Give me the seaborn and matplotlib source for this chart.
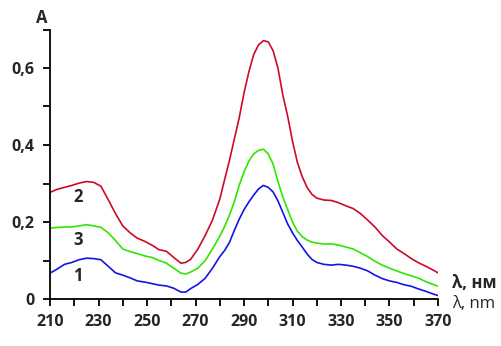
import matplotlib
matplotlib.use("Agg")
import matplotlib.pyplot as plt
import seaborn as sns
import pandas as pd
from matplotlib.ticker import MultipleLocator, FixedLocator

# Wavelength grid, nm (denser around the absorption maximum)
wavelength = [210, 213, 216, 219, 222, 225, 228, 231, 234, 237, 240, 243, 246, 249,
              252, 255, 258, 261, 264, 266, 268, 271, 274, 277,
              280, 282, 284, 286, 288, 290, 292, 294, 296, 298, 300, 302, 304, 306,
              308, 310, 312, 314, 316, 318, 320,
              323, 326, 329, 332, 335, 338, 341, 344, 347, 350, 353, 356, 359, 362,
              365, 368, 370]

# Absorbance of the three samples
absorb_1 = [0.067, 0.078, 0.090, 0.095, 0.102, 0.106, 0.105, 0.102, 0.085, 0.068,
            0.062, 0.055, 0.047, 0.044, 0.040, 0.036, 0.034, 0.028, 0.018, 0.018,
            0.027, 0.038, 0.054, 0.080,
            0.110, 0.126, 0.147, 0.178, 0.207, 0.232, 0.252, 0.270, 0.286, 0.295,
            0.290, 0.278, 0.255, 0.225, 0.195, 0.172, 0.152, 0.135, 0.117, 0.103,
            0.095,
            0.090, 0.088, 0.090, 0.088, 0.085, 0.080, 0.073, 0.062, 0.053, 0.047,
            0.043, 0.037, 0.033, 0.026, 0.020, 0.013, 0.009]
absorb_2 = [0.277, 0.285, 0.290, 0.295, 0.301, 0.305, 0.303, 0.293, 0.258, 0.222,
            0.190, 0.172, 0.158, 0.150, 0.140, 0.128, 0.124, 0.108, 0.093, 0.095,
            0.103, 0.130, 0.165, 0.205,
            0.259, 0.310, 0.360, 0.415, 0.470, 0.535, 0.590, 0.635, 0.660, 0.671,
            0.668, 0.645, 0.600, 0.530, 0.475, 0.410, 0.355, 0.318, 0.290, 0.272,
            0.262,
            0.257, 0.256, 0.250, 0.242, 0.235, 0.222, 0.205, 0.187, 0.165, 0.148,
            0.130, 0.118, 0.105, 0.094, 0.085, 0.075, 0.068]
absorb_3 = [0.184, 0.186, 0.187, 0.187, 0.190, 0.193, 0.190, 0.186, 0.172, 0.152,
            0.130, 0.123, 0.118, 0.112, 0.108, 0.100, 0.093, 0.080, 0.067, 0.065,
            0.070, 0.080, 0.100, 0.130,
            0.163, 0.188, 0.218, 0.252, 0.295, 0.330, 0.358, 0.377, 0.386, 0.389,
            0.377, 0.350, 0.305, 0.265, 0.232, 0.200, 0.176, 0.162, 0.153, 0.148,
            0.145,
            0.143, 0.143, 0.140, 0.135, 0.130, 0.120, 0.110, 0.098, 0.088, 0.080,
            0.073, 0.066, 0.060, 0.054, 0.045, 0.038, 0.033]

series_names = ["1", "2", "3"]
series_colors = {"1": "#1414e6", "2": "#cc0a28", "3": "#2ee600"}

y_ticks = [0.0, 0.2, 0.4, 0.6]
y_tick_labels = ["0", "0,2", "0,4", "0,6"]
x_ticks = [210, 230, 250, 270, 290, 310, 330, 350, 370]

df = pd.concat([
    pd.DataFrame({"wavelength": wavelength, "A": vals, "sample": name})
    for name, vals in zip(series_names, [absorb_1, absorb_2, absorb_3])
])

sns.set_style("ticks")
plt.rcParams["font.family"] = ["Open Sans", "DejaVu Sans"]

W, H = 502, 346
fig = plt.figure(figsize=(W / 100, H / 100), dpi=100)
ax = fig.add_axes([50 / W, 1 - 299 / H, 388 / W, 269.5 / H])

sns.lineplot(data=df, x="wavelength", y="A", hue="sample", palette=series_colors,
             linewidth=1.2, legend=False, ax=ax, sort=False)

ax.set_xlim(210, 370)
ax.set_ylim(0, 0.7)
ax.xaxis.set_major_locator(FixedLocator(x_ticks))
ax.xaxis.set_minor_locator(MultipleLocator(10))
ax.set_xticklabels([str(t) for t in x_ticks])
ax.yaxis.set_major_locator(FixedLocator(y_ticks))
ax.yaxis.set_minor_locator(MultipleLocator(0.1))
ax.set_yticklabels(y_tick_labels)
ax.set_xlabel("")
ax.set_ylabel("")

for side in ["top", "right"]:
    ax.spines[side].set_visible(False)
for side in ["left", "bottom"]:
    ax.spines[side].set_linewidth(1.3)
    ax.spines[side].set_color("black")

ax.tick_params(axis="both", which="both", direction="out", width=1.3, color="black")
ax.tick_params(axis="both", which="major", length=5, pad=6, labelsize=11.5)
ax.tick_params(axis="both", which="minor", length=5)
for lab in ax.get_xticklabels() + ax.get_yticklabels():
    lab.set_fontweight("bold")

# Curve numbers
for name, (xt, yt) in {"2": (221.5, 0.265), "3": (221.5, 0.153), "1": (221.5, 0.06)}.items():
    ax.text(xt, yt, name, fontsize=12, fontweight="bold", ha="center", va="center")

# Axis titles
fig.text(42 / W, 1 - 18 / H, "A", fontsize=12, fontweight="bold", ha="center", va="center")
fig.text(452 / W, 1 - 283 / H, "λ, нм", fontsize=12, fontweight="bold", ha="left", va="center")
fig.text(452 / W, 1 - 304 / H, "λ, nm", fontsize=12, ha="left", va="center")

fig.savefig("out.png", dpi=100)
